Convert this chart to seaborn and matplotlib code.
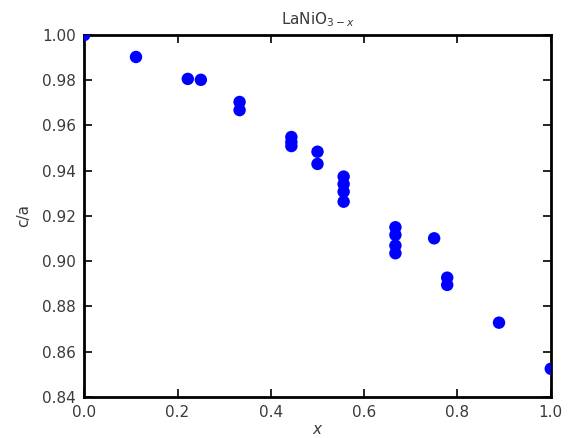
import matplotlib
matplotlib.use("Agg")
import matplotlib.pyplot as plt
import seaborn as sns
import pandas as pd

x_vals = [0.0, 0.111, 0.222, 0.25, 0.333, 0.333, 0.444, 0.444, 0.444, 0.5, 0.5,
          0.556, 0.556, 0.556, 0.556, 0.667, 0.667, 0.667, 0.667, 0.75,
          0.778, 0.778, 0.889, 1.0]
ca_vals = [1.0, 0.9903, 0.9806, 0.9802, 0.9704, 0.9668, 0.9549, 0.9527, 0.9509, 0.9484, 0.9430,
           0.9374, 0.9341, 0.9307, 0.9263, 0.9150, 0.9116, 0.9069, 0.9035, 0.9101,
           0.8927, 0.8895, 0.8728, 0.8524]

df = pd.DataFrame({"x": x_vals, "ca": ca_vals})

sns.set_theme(style="ticks")
plt.rcParams['font.family'] = ['DejaVu Sans']
plt.rcParams['mathtext.fontset'] = 'dejavusans'
text_color = "#3a3a3a"

fig = plt.figure(figsize=(5.69, 4.38), dpi=100)
ax = fig.add_axes([0.148, 0.094, 0.820, 0.826])
sns.scatterplot(data=df, x="x", y="ca", ax=ax, color="blue", s=80, edgecolor="none", linewidth=0, zorder=3)

ax.set_xlim(0, 1)
ax.set_ylim(0.84, 1.0)
ax.set_xticks([0.0, 0.2, 0.4, 0.6, 0.8, 1.0])
ax.set_yticks([0.84, 0.86, 0.88, 0.90, 0.92, 0.94, 0.96, 0.98, 1.00])
ax.set_yticklabels([f"{v:.2f}" for v in ax.get_yticks()])
ax.set_xticklabels([f"{v:.1f}" for v in ax.get_xticks()])
ax.tick_params(direction="in", top=True, right=True, length=6, width=1.2,
               labelsize=11, labelcolor=text_color, color="black", pad=6)
for sp in ax.spines.values():
    sp.set_linewidth(2)
    sp.set_color("black")
    sp.set_visible(True)
ax.set_xlabel("$x$", fontsize=11, color=text_color, labelpad=1)
ax.set_ylabel("c/a", fontsize=11, color=text_color, labelpad=8)
ax.set_title(r"LaNiO$_{3-x}$", fontsize=11, color=text_color, pad=8)

fig.savefig("out.png", dpi=100)
